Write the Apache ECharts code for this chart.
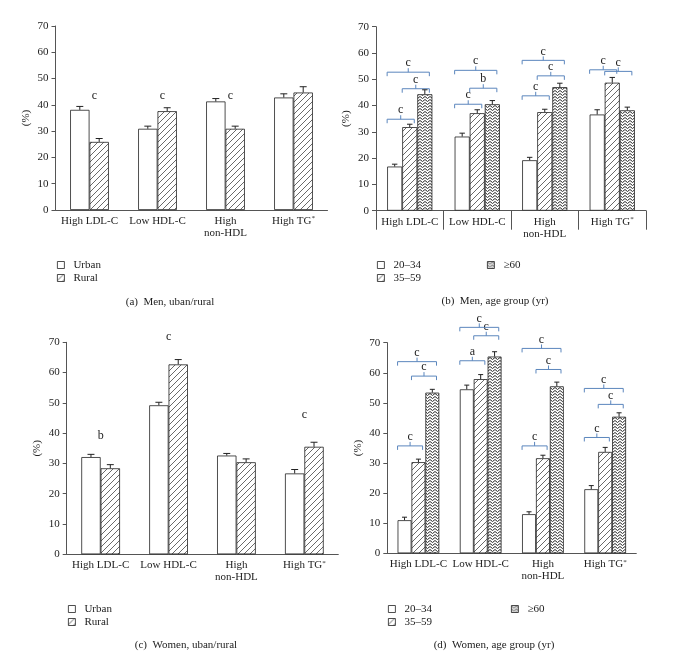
<!DOCTYPE html>
<html>
<head>
<meta charset="utf-8">
<script src="https://cdn.jsdelivr.net/npm/echarts@6/dist/echarts.min.js"></script>
<style>
    html, body {margin: 0; padding: 0; background: #fff;}
    #main {width: 681px; height: 664px;}
</style>
</head>
<body>
<div id="main"></div>
<script>
// categories and values (%)
var categories = ['High LDL-C', 'Low HDL-C', 'High\nnon-HDL', 'High TG{sup|*}'];

var menUrban = [38.1, 30.9, 41.3, 42.8];
var menUrbanErr = [1.3, 1.0, 1.1, 1.4];
var menRural = [25.9, 37.6, 30.9, 44.7];
var menRuralErr = [1.3, 1.3, 1.0, 2.2];
var menSig = ['c', 'c', 'c', ''];
var menSigLevel = [43.4, 43.4, 43.4, 0];

var menAge20 = [16.8, 28.2, 19.2, 36.6];
var menAge20Err = [0.9, 1.3, 1.1, 1.8];
var menAge35 = [31.8, 37.1, 37.5, 48.7];
var menAge35Err = [1.1, 1.3, 1.1, 2.0];
var menAge60 = [44.3, 40.5, 47.0, 38.2];
var menAge60Err = [1.7, 1.4, 1.5, 1.2];
// [category, from group, to group, level, letter]
var menBrackets = [
    [0, 0, 1, 34.8, 'c'], [0, 1, 2, 46.4, 'c'], [0, 0, 2, 52.7, 'c'],
    [1, 0, 1, 40.5, 'c'], [1, 1, 2, 46.6, 'b'], [1, 0, 2, 53.4, 'c'],
    [2, 0, 1, 43.7, 'c'], [2, 1, 2, 51.3, 'c'], [2, 0, 2, 57.2, 'c'],
    [3, 0, 1, 53.6, 'c'], [3, 1, 2, 53.0, 'c']
];

var womenUrban = [32.1, 49.2, 32.6, 26.7];
var womenUrbanErr = [0.9, 1.0, 0.7, 1.3];
var womenRural = [28.4, 62.7, 30.4, 35.5];
var womenRuralErr = [1.2, 1.6, 1.1, 1.5];
var womenSig = ['b', 'c', '', 'c'];
var womenSigLevel = [39.2, 71.9, 0, 46.0];

var womenAge20 = [11.0, 54.5, 13.0, 21.3];
var womenAge20Err = [1.0, 1.4, 0.8, 1.2];
var womenAge35 = [30.3, 57.9, 31.6, 33.7];
var womenAge35Err = [1.0, 1.5, 1.0, 1.5];
var womenAge60 = [53.4, 65.4, 55.5, 45.4];
var womenAge60Err = [1.1, 1.6, 1.4, 1.3];
var womenBrackets = [
    [0, 0, 1, 35.7, 'c'], [0, 1, 2, 58.9, 'c'], [0, 0, 2, 63.7, 'c'],
    [1, 0, 1, 64.0, 'a'], [1, 1, 2, 72.3, 'c'], [1, 0, 2, 75.1, 'c'],
    [2, 0, 1, 35.7, 'c'], [2, 1, 2, 61.1, 'c'], [2, 0, 2, 68.1, 'c'],
    [3, 0, 1, 38.5, 'c'], [3, 1, 2, 49.5, 'c'], [3, 0, 2, 54.8, 'c']
];

var captions = ['(a)  Men, uban/rural', '(b)  Men, age group (yr)', '(c)  Women, uban/rural', '(d)  Women, age group (yr)'];

var FONT = 'Liberation Serif';
var INK = '#222';
var BLUE = '#5b86bd';

// fill patterns
function hatch() {
    var c = document.createElement('canvas');
    c.width = 6; c.height = 6;
    var g = c.getContext('2d');
    g.fillStyle = '#fff';
    g.fillRect(0, 0, 6, 6);
    g.strokeStyle = '#444';
    g.lineWidth = 0.8;
    g.beginPath();
    g.moveTo(-1, 7); g.lineTo(7, -1);
    g.moveTo(-1, 1); g.lineTo(1, -1);
    g.moveTo(5, 7); g.lineTo(7, 5);
    g.stroke();
    return {image: c, repeat: 'repeat'};
}

function zigzag() {
    var c = document.createElement('canvas');
    c.width = 5; c.height = 3;
    var g = c.getContext('2d');
    g.fillStyle = '#fff';
    g.fillRect(0, 0, 5, 3);
    g.strokeStyle = '#2a2a2a';
    g.lineWidth = 1;
    g.beginPath();
    g.moveTo(0, 0.5); g.lineTo(2.5, 2.5); g.lineTo(5, 0.5);
    g.stroke();
    return {image: c, repeat: 'repeat'};
}

var WHITE = '#fff', HATCH = hatch(), ZIG = zigzag();

var grids = [
    {left: 55.5, top: 26, width: 272, height: 184},
    {left: 376, top: 26.7, width: 270, height: 184},
    {left: 66.7, top: 342.3, width: 271.6, height: 212},
    {left: 387.3, top: 342.7, width: 249, height: 210.6}
];
var gaps = [0.43, 0.33, 0.43, 0.33];

function xAxisFor(gi, separators) {
    return {
        type: 'category', gridIndex: gi, data: categories,
        axisLine: {show: true, lineStyle: {color: '#555', width: 1}},
        axisTick: {show: !!separators, length: 19, interval: 0, lineStyle: {color: '#555'}},
        axisLabel: {
            interval: 0, margin: 5, color: INK, fontFamily: FONT, fontSize: 11, lineHeight: 12,
            rich: {sup: {fontFamily: FONT, fontSize: 7, color: INK, verticalAlign: 'top', lineHeight: 10}}
        },
        splitLine: {show: false}
    };
}

function yAxisFor(gi, gap) {
    return {
        type: 'value', gridIndex: gi, min: 0, max: 70, interval: 10,
        name: '(%)', nameLocation: 'middle', nameRotate: 90, nameGap: gap,
        nameTextStyle: {color: INK, fontFamily: FONT, fontSize: 11},
        axisLine: {show: true, lineStyle: {color: '#555', width: 1}},
        axisTick: {show: true, inside: false, length: 4, lineStyle: {color: '#555'}},
        axisLabel: {margin: 7, color: INK, fontFamily: FONT, fontSize: 11},
        splitLine: {show: false}
    };
}

function barSeries(name, gi, vals, fill) {
    return {
        type: 'bar', name: name, xAxisIndex: gi, yAxisIndex: gi, data: vals,
        barGap: '0%', barCategoryGap: (gaps[gi] * 100) + '%', silent: true,
        itemStyle: {color: fill, borderColor: INK, borderWidth: 0.8}
    };
}

function errSeries(gi, vals, errs, k, n) {
    var data = vals.map(function (v, i) {
        return [i, v, errs[i]];
    });
    return {
        type: 'custom', name: 'err', xAxisIndex: gi, yAxisIndex: gi, data: data, silent: true, z: 5,
        renderItem: function (params, api) {
            var band = api.size([1, 0])[0];
            var bw = band * (1 - gaps[gi]) / n;
            var p0 = api.coord([api.value(0), api.value(1)]);
            var p1 = api.coord([api.value(0), api.value(1) + api.value(2)]);
            var x = p0[0] + (k - (n - 1) / 2) * bw;
            var cap = bw * 0.18;
            return {
                type: 'group', children: [
                    {type: 'line', shape: {x1: x, y1: p0[1], x2: x, y2: p1[1]}, style: {stroke: INK, lineWidth: 1}},
                    {type: 'line', shape: {x1: x - cap, y1: p1[1], x2: x + cap, y2: p1[1]}, style: {stroke: INK, lineWidth: 1}}
                ]
            };
        }
    };
}

function sigSeries(gi, letters, levels, shift) {
    var data = [];
    letters.forEach(function (t, i) {
        if (t) data.push([i, levels[i], i]);
    });
    return {
        type: 'custom', name: 'sig', xAxisIndex: gi, yAxisIndex: gi, data: data, silent: true, clip: false,
        renderItem: function (params, api) {
            var p = api.coord([api.value(0), api.value(1)]);
            return {
                type: 'text',
                style: {
                    text: letters[api.value(2)], x: p[0] + shift, y: p[1], align: 'center', verticalAlign: 'middle',
                    fill: INK, font: '12px "' + FONT + '"'
                }
            };
        }
    };
}

function bracketSeries(gi, list) {
    var data = list.map(function (b) {
        return [b[0], b[3], b[1], b[2]];
    });
    return {
        type: 'custom', name: 'brackets', xAxisIndex: gi, yAxisIndex: gi, data: data, silent: true, clip: false,
        renderItem: function (params, api) {
            var band = api.size([1, 0])[0];
            var bw = band * (1 - gaps[gi]) / 3;
            var p = api.coord([api.value(0), api.value(1)]);
            var x1 = p[0] + (api.value(2) - 1) * bw - 0.5 * bw;
            var x2 = p[0] + (api.value(3) - 1) * bw + 0.3 * bw;
            var y = p[1], xm = (x1 + x2) / 2;
            var st = {stroke: BLUE, lineWidth: 1, fill: null};
            return {
                type: 'group', children: [
                    {type: 'polyline', shape: {points: [[x1, y + 4], [x1, y], [x2, y], [x2, y + 4]]}, style: st},
                    {type: 'line', shape: {x1: xm, y1: y, x2: xm, y2: y - 4}, style: st},
                    {
                        type: 'text', style: {
                            text: list[params.dataIndex][4], x: xm, y: y - 9, align: 'center', verticalAlign: 'middle',
                            fill: INK, font: '12px "' + FONT + '"'
                        }
                    }
                ]
            };
        }
    };
}

function legendAt(left, top, names) {
    return {
        show: true, orient: 'vertical', left: left, top: top, data: names, selectedMode: false,
        icon: 'rect', itemWidth: 7, itemHeight: 7, itemGap: 1, padding: 0,
        itemStyle: {borderColor: INK, borderWidth: 0.8},
        textStyle: {color: INK, fontFamily: FONT, fontSize: 11, lineHeight: 12, padding: [0, 0, 0, 4]}
    };
}

function caption(x, y, text) {
    return {
        type: 'text', x: x, y: y, silent: true,
        style: {text: text, align: 'center', verticalAlign: 'middle', fill: INK, font: '11px "' + FONT + '"'}
    };
}

var myChart = echarts.init(document.getElementById('main'), null, {renderer: 'canvas'});

var option = {
    animation: false,
    backgroundColor: '#fff',
    grid: grids.map(function (g) {
        return Object.assign({containLabel: false, outerBoundsMode: 'none'}, g);
    }),
    xAxis: [xAxisFor(0, false), xAxisFor(1, true), xAxisFor(2, false), xAxisFor(3, false)],
    yAxis: [yAxisFor(0, 24), yAxisFor(1, 24), yAxisFor(2, 24), yAxisFor(3, 24)],
    legend: [
        legendAt(57, 259, ['Urban', 'Rural']),
        legendAt(377, 259, ['20–34', '35–59']),
        legendAt(487, 259, ['≥60']),
        legendAt(68, 603, ['Urban', 'Rural']),
        legendAt(388, 603, ['20–34', '35–59']),
        legendAt(511, 603, ['≥60'])
    ],
    graphic: [
        caption(170, 302, captions[0]),
        caption(495, 301, captions[1]),
        caption(186, 645, captions[2]),
        caption(494, 645, captions[3])
    ],
    series: [
        barSeries('Urban', 0, menUrban, WHITE),
        barSeries('Rural', 0, menRural, HATCH),
        errSeries(0, menUrban, menUrbanErr, 0, 2),
        errSeries(0, menRural, menRuralErr, 1, 2),
        sigSeries(0, menSig, menSigLevel, 5),

        barSeries('20–34', 1, menAge20, WHITE),
        barSeries('35–59', 1, menAge35, HATCH),
        barSeries('≥60', 1, menAge60, ZIG),
        errSeries(1, menAge20, menAge20Err, 0, 3),
        errSeries(1, menAge35, menAge35Err, 1, 3),
        errSeries(1, menAge60, menAge60Err, 2, 3),
        bracketSeries(1, menBrackets),

        barSeries('Urban', 2, womenUrban, WHITE),
        barSeries('Rural', 2, womenRural, HATCH),
        errSeries(2, womenUrban, womenUrbanErr, 0, 2),
        errSeries(2, womenRural, womenRuralErr, 1, 2),
        sigSeries(2, womenSig, womenSigLevel, 0),

        barSeries('20–34', 3, womenAge20, WHITE),
        barSeries('35–59', 3, womenAge35, HATCH),
        barSeries('≥60', 3, womenAge60, ZIG),
        errSeries(3, womenAge20, womenAge20Err, 0, 3),
        errSeries(3, womenAge35, womenAge35Err, 1, 3),
        errSeries(3, womenAge60, womenAge60Err, 2, 3),
        bracketSeries(3, womenBrackets)
    ]
};

myChart.setOption(option);
</script>
</body>
</html>
